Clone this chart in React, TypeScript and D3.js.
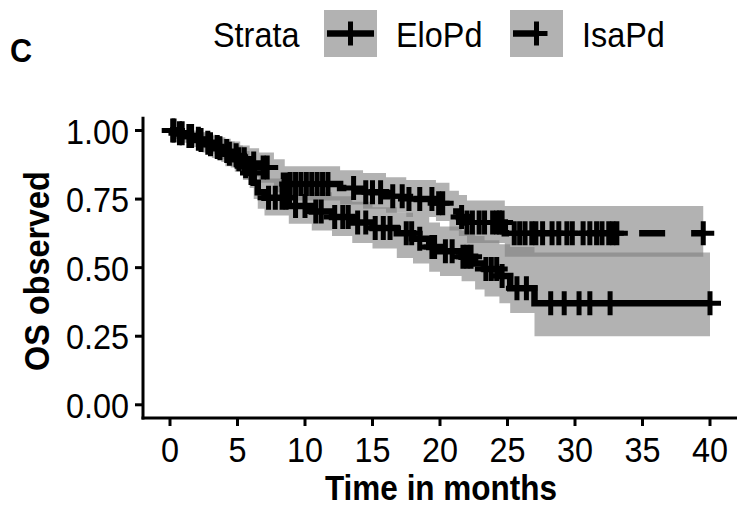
import * as d3 from 'd3';

// EloPd (solid line, lower curve)
const eloTime = [0, 0.5, 1.2, 2.0, 2.7, 3.4, 4.1, 4.8, 5.4, 5.9, 6.2, 6.5, 7.0, 8.8, 10.5, 12.0, 13.5, 15.0, 16.8, 18.0, 19.2, 20.0, 21.6, 22.6, 23.3, 24.4, 25.2, 27.0];
const eloSurv = [1, 0.99, 0.98, 0.965, 0.95, 0.935, 0.915, 0.895, 0.87, 0.845, 0.81, 0.775, 0.755, 0.725, 0.705, 0.685, 0.665, 0.645, 0.625, 0.605, 0.575, 0.56, 0.54, 0.515, 0.495, 0.47, 0.425, 0.37];
const eloLower = [1, 0.97, 0.955, 0.935, 0.915, 0.895, 0.87, 0.85, 0.82, 0.79, 0.75, 0.715, 0.69, 0.66, 0.635, 0.615, 0.59, 0.57, 0.535, 0.515, 0.485, 0.47, 0.45, 0.42, 0.395, 0.37, 0.335, 0.25];
const eloUpper = [1, 1, 1, 0.995, 0.985, 0.975, 0.96, 0.945, 0.925, 0.905, 0.87, 0.84, 0.825, 0.795, 0.775, 0.76, 0.74, 0.72, 0.7, 0.685, 0.665, 0.65, 0.635, 0.615, 0.6, 0.585, 0.575, 0.555];
const eloCensor = [0.2, 0.9, 1.6, 2.3, 3.0, 3.7, 4.4, 5.1, 5.6, 6.0, 7.3, 7.8, 8.3, 8.6, 9.3, 10.0, 10.8, 11.2, 12.2, 12.8, 13.2, 13.9, 14.5, 15.2, 15.8, 16.3, 17.5, 17.9, 18.5, 19.4, 19.6, 20.4, 20.9, 21.7, 22.0, 22.3, 23.4, 23.8, 24.2, 24.6, 25.7, 26.4, 28.2, 29.2, 30.3, 31.1, 32.6, 40.0];

// IsaPd (dashed line, upper curve)
const isaTime = [0, 0.4, 1.0, 1.7, 2.4, 3.1, 3.8, 4.5, 5.2, 5.9, 6.6, 7.7, 8.5, 12.6, 14.3, 16.0, 17.5, 19.7, 20.7, 21.4, 22.0, 24.8];
const isaSurv = [1, 0.99, 0.98, 0.97, 0.955, 0.94, 0.925, 0.91, 0.895, 0.88, 0.865, 0.835, 0.805, 0.79, 0.775, 0.76, 0.75, 0.735, 0.705, 0.685, 0.665, 0.625];
const isaLower = [1, 0.97, 0.955, 0.94, 0.92, 0.9, 0.885, 0.865, 0.845, 0.83, 0.81, 0.775, 0.745, 0.73, 0.715, 0.7, 0.685, 0.67, 0.635, 0.615, 0.59, 0.54];
const isaUpper = [1, 1, 1, 0.995, 0.99, 0.98, 0.97, 0.96, 0.945, 0.935, 0.92, 0.895, 0.87, 0.855, 0.845, 0.83, 0.82, 0.81, 0.78, 0.765, 0.745, 0.725];
const isaCensor = [0.3, 0.7, 1.4, 2.1, 2.8, 3.5, 4.2, 4.9, 5.5, 6.2, 6.9, 7.2, 8.9, 9.3, 9.7, 10.1, 10.5, 10.9, 11.3, 11.7, 13.6, 14.5, 15.0, 15.6, 16.5, 17.2, 17.7, 18.5, 19.4, 19.9, 20.2, 21.6, 22.0, 22.4, 22.9, 23.3, 23.9, 24.2, 24.4, 24.6, 25.5, 25.9, 26.3, 26.8, 27.1, 27.6, 28.3, 28.8, 29.4, 29.8, 30.6, 31.1, 31.6, 32.0, 32.5, 32.8, 33.1, 39.5];

const timeTicks = [0, 5, 10, 15, 20, 25, 30, 35, 40];
const survTicks = [0, 0.25, 0.5, 0.75, 1];
const strataNames = ['EloPd', 'IsaPd'];

const W = 737, H = 509;
const font = '"Liberation Sans", Arial, sans-serif';
const bandFill = '#7f7f7f';
const dash = '26 26';

const x = d3.scaleLinear().domain([-2, 42]).range([143, 737]);
const y = d3.scaleLinear().domain([-0.05, 1.05]).range([418.5, 116.8]);

type Pt = { t: number; s: number; lo: number; hi: number };

function build(time: number[], surv: number[], lo: number[], hi: number[], censor: number[]) {
  const pts: Pt[] = time.map((t, i) => ({ t, s: surv[i], lo: lo[i], hi: hi[i] }));
  const end = d3.max(censor) as number;
  const last = pts[pts.length - 1];
  pts.push({ ...last, t: end });
  const at = (t: number) => {
    const i = d3.bisectRight(time, t) - 1;
    return surv[Math.max(i, 0)];
  };
  const marks = censor.map(t => ({ t, s: at(t) }));
  return { pts, marks };
}

const strata = [
  { name: 'EloPd', dash: null as string | null, ...build(eloTime, eloSurv, eloLower, eloUpper, eloCensor) },
  { name: 'IsaPd', dash: dash as string | null, ...build(isaTime, isaSurv, isaLower, isaUpper, isaCensor) },
];

const line = d3.line<Pt>().x(d => x(d.t)).y(d => y(d.s)).curve(d3.curveStepAfter);
const band = d3.area<Pt>().x(d => x(d.t)).y0(d => y(d.lo)).y1(d => y(d.hi)).curve(d3.curveStepAfter);

const plus = 'M-11,0H11M0,-12V12';

function Txt({ x: tx, y: ty, anchor = 'start', size = 36, bold = false, rotate = 0, children }: any) {
  return (
    <text
      transform={`translate(${tx},${ty}) rotate(${rotate}) scale(0.9,1)`}
      textAnchor={anchor}
      fontSize={size}
      fontWeight={bold ? 'bold' : 'normal'}
      fontFamily={font}
      fill="#000"
    >
      {children}
    </text>
  );
}

const legendKeys = [
  { x: 324, label: 396 },
  { x: 510, label: 582 },
];

export default function App() {
  return (
    <svg width={W} height={H} viewBox={`0 0 ${W} ${H}`} style={{ position: 'absolute', left: 0, top: 0, background: '#fff' }}>
      <rect width={W} height={H} fill="#fff" />

      {/* panel label + legend */}
      <Txt x={10} y={62} size={34} bold>C</Txt>
      <Txt x={213} y={47}>Strata</Txt>
      {strata.map((st, i) => {
        const k = legendKeys[i];
        return (
          <g key={st.name}>
            <rect x={k.x} y={10} width={53} height={47} fill={bandFill} fillOpacity={0.6} />
            <line x1={k.x + 3} x2={k.x + 50} y1={33.5} y2={33.5} stroke="#000" strokeWidth={6.5}
              strokeDasharray={st.dash ?? undefined} />
            <path d={plus} transform={`translate(${k.x + 26.5},33.5)`} stroke="#000" strokeWidth={5} fill="none" />
            <Txt x={k.label} y={47}>{strataNames[i]}</Txt>
          </g>
        );
      })}

      {/* confidence bands */}
      {strata.map(st => (
        <path key={st.name + 'b'} d={band(st.pts) ?? ''} fill={bandFill} fillOpacity={0.6} />
      ))}
      {/* survival curves */}
      {strata.map(st => (
        <path key={st.name + 'l'} d={line(st.pts) ?? ''} fill="none" stroke="#000" strokeWidth={6.5}
          strokeDasharray={st.dash ?? undefined} />
      ))}
      {/* censor marks */}
      {strata.map(st => (
        <g key={st.name + 'c'}>
          {st.marks.map((m, j) => (
            <path key={j} d={plus} transform={`translate(${x(m.t)},${y(m.s)})`} stroke="#000" strokeWidth={5} fill="none" />
          ))}
        </g>
      ))}

      {/* axes */}
      <line x1={143} x2={143} y1={116.8} y2={419.5} stroke="#000" strokeWidth={3} />
      <line x1={141.5} x2={737} y1={418} y2={418} stroke="#000" strokeWidth={3} />
      {survTicks.map(v => (
        <g key={'y' + v}>
          <line x1={135} x2={143} y1={y(v)} y2={y(v)} stroke="#000" strokeWidth={3} />
          <Txt x={129} y={y(v) + 13} anchor="end">{d3.format('.2f')(v)}</Txt>
        </g>
      ))}
      {timeTicks.map(v => (
        <g key={'x' + v}>
          <line x1={x(v)} x2={x(v)} y1={418} y2={426} stroke="#000" strokeWidth={3} />
          <Txt x={x(v)} y={462} anchor="middle">{v}</Txt>
        </g>
      ))}

      {/* axis titles */}
      <Txt x={441} y={500} size={35} anchor="middle" bold>Time in months</Txt>
      <Txt x={49} y={271} anchor="middle" bold rotate={-90}>OS observed</Txt>
    </svg>
  );
}
